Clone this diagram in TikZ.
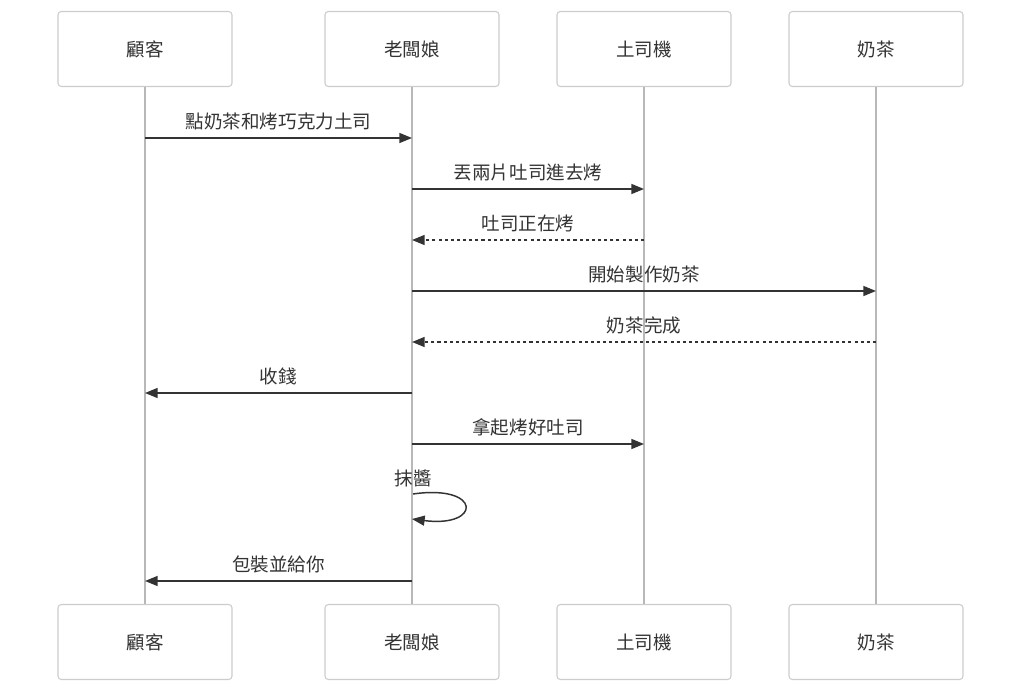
\documentclass[tikz,border=0pt]{standalone}
\usepackage{fontspec}
\setmainfont{Noto Sans CJK TC}
\usetikzlibrary{arrows.meta}
\tikzset{
 actor/.style={draw=black!20, fill=white, rounded corners=2.5pt, line width=0.8pt,
   minimum width=130.5pt, minimum height=56.25pt, font=\fontsize{13.9}{16}\selectfont, text=black!80},
 life/.style={draw=black!28, line width=1.5pt},
 msg/.style={draw=black!80, line width=1.1pt, -{Triangle[length=9.5pt,width=7.5pt]}},
 reply/.style={msg, dash pattern=on 2.3pt off 2.3pt},
 lbl/.style={font=\fontsize{13.9}{16}\selectfont, text=black!80, inner sep=0pt}
}
\begin{document}
\begin{tikzpicture}[x=0.75pt,y=-0.75pt]
 \useasboundingbox (0,0) rectangle (1024,695);

 \foreach \x/\n/\t in {145/ku/顧客, 412/ln/老闆娘, 644/tm/土司機, 876/nc/奶茶} {
   \node[actor] (\n) at (\x,49) {\t};
   \node[actor] (\n2) at (\x,642) {\t};
   \draw[life] (\n) -- (\n2);
 }

 \coordinate (a1) at (145,138); \coordinate (b1) at (412,138);
 \draw[msg] (a1) -- node[lbl,midway,yshift=12.5pt] {點奶茶和烤巧克力土司} (b1);

 \coordinate (a2) at (412,189); \coordinate (b2) at (644,189);
 \draw[msg] (a2) -- node[lbl,midway,yshift=12.5pt] {丟兩片吐司進去烤} (b2);

 \coordinate (a3) at (644,240); \coordinate (b3) at (412,240);
 \draw[reply] (a3) -- node[lbl,midway,yshift=12.5pt] {吐司正在烤} (b3);

 \coordinate (a4) at (412,291); \coordinate (b4) at (876,291);
 \draw[msg] (a4) -- node[lbl,midway,yshift=12.5pt] {開始製作奶茶} (b4);

 \coordinate (a5) at (876,342); \coordinate (b5) at (412,342);
 \draw[reply] (a5) -- node[lbl,midway,yshift=12.5pt] {奶茶完成} (b5);

 \coordinate (a6) at (412,393); \coordinate (b6) at (145,393);
 \draw[msg] (a6) -- node[lbl,midway,yshift=12.5pt] {收錢} (b6);

 \coordinate (a7) at (412,444); \coordinate (b7) at (644,444);
 \draw[msg] (a7) -- node[lbl,midway,yshift=12.5pt] {拿起烤好吐司} (b7);

 % self message
 \coordinate (a8) at (413,494); \coordinate (b8) at (412,519);
 \node[lbl] (s8) at (413,478) {抹醬};
 \draw[msg] (a8) .. controls (482,484) and (482,528) .. (b8);

 \coordinate (a9) at (412,581); \coordinate (b9) at (145,581);
 \draw[msg] (a9) -- node[lbl,midway,yshift=12.5pt] {包裝並給你} (b9);
\end{tikzpicture}
\end{document}
